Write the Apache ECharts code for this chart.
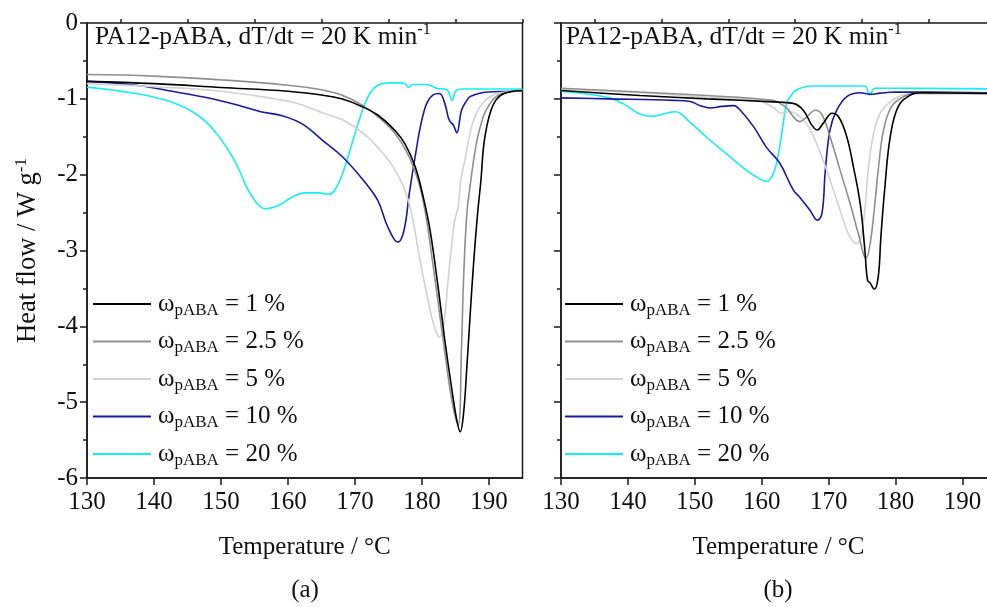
<!DOCTYPE html>
<html>
<head>
<meta charset="utf-8">
<script src="https://cdn.jsdelivr.net/npm/echarts@6/dist/echarts.min.js"></script>
<style>
  html, body { margin: 0; padding: 0; background: #fff; }
  #chart { width: 987px; height: 607px; }
</style>
</head>
<body>
<div id="chart"></div>
<script>
// DSC heating curves of PA12-pABA blends, two runs (a) and (b)
const shares = ['1 %', '2.5 %', '5 %', '10 %', '20 %'];
const colors = ['#000000', '#8f8f8f', '#d2d2d2', '#1a1aa0', '#18eeee'];

const xTicksMajor = [130, 140, 150, 160, 170, 180, 190];
const xTicksMinor = [135, 145, 155, 165, 175, 185, 195];

// ---- panel (a) ----
const tA1 = [130, 140, 150, 160, 165, 168, 171, 173.5, 176, 177.5, 179, 180.2, 181.2, 182.4, 183.4, 184.4, 185.2, 185.7, 186.2, 186.7, 187.2, 187.7, 188.3, 188.8, 189.2, 189.7, 190.3, 191.0, 192.0, 193.5, 195];
const hA1 = [-0.77, -0.80, -0.85, -0.90, -0.95, -1.00, -1.10, -1.22, -1.42, -1.60, -1.90, -2.30, -2.73, -3.48, -4.18, -4.80, -5.24, -5.39, -5.15, -4.53, -3.83, -3.17, -2.51, -2.07, -1.62, -1.35, -1.15, -1.02, -0.94, -0.90, -0.89];

const tA2 = [130, 140, 150, 160, 165, 168, 171, 173.5, 176, 178, 179.5, 180.5, 181.5, 182.5, 183.5, 184.5, 185.4, 185.9, 186.2, 186.7, 187.3, 187.7, 188.2, 188.7, 189.3, 189.9, 190.8, 192, 195];
const hA2 = [-0.68, -0.70, -0.75, -0.82, -0.88, -0.95, -1.08, -1.24, -1.46, -1.75, -2.10, -2.50, -3.10, -3.75, -4.40, -5.00, -5.30, -4.27, -3.39, -2.51, -2.07, -1.81, -1.55, -1.37, -1.20, -1.10, -0.99, -0.93, -0.89];

const tA3 = [130, 140, 150, 160, 163, 165, 168.2, 171.3, 173.4, 176, 178, 179.7, 180.7, 181.7, 182.6, 183.2, 183.9, 184.4, 184.9, 185.4, 185.8, 186.4, 187.4, 188.7, 190.6, 192.5, 195];
const hA3 = [-0.80, -0.84, -0.90, -1.03, -1.11, -1.18, -1.28, -1.46, -1.64, -1.94, -2.35, -3.13, -3.57, -3.96, -4.14, -4.00, -3.39, -2.95, -2.60, -2.42, -2.07, -1.81, -1.37, -1.10, -0.95, -0.91, -0.89];

const tA4 = [130, 137.3, 142, 147.6, 152.8, 155.9, 159, 162.1, 165.2, 168.2, 171.3, 173.4, 174.9, 176.4, 177.3, 178.1, 179, 179.8, 180.7, 181.6, 182.6, 183.4, 183.9, 184.2, 184.7, 185.2, 185.9, 186.7, 187.2, 189.7, 195];
const hA4 = [-0.77, -0.82, -0.89, -0.98, -1.09, -1.17, -1.22, -1.33, -1.55, -1.77, -2.08, -2.34, -2.69, -2.89, -2.74, -2.25, -1.75, -1.35, -1.06, -0.95, -0.93, -1.06, -1.24, -1.30, -1.35, -1.45, -1.15, -1.02, -0.97, -0.91, -0.90];

const tA5 = [130, 137.3, 142.5, 146.6, 149.7, 152.3, 153.8, 155.4, 156.6, 158.5, 160.5, 162.6, 164.6, 166.1, 167.5, 168.8, 170.3, 171.9, 173.4, 175.5, 176.7, 177.5, 178, 178.6, 180.6, 182.2, 183.7, 184.5, 185.0, 186, 195];
const hA5 = [-0.845, -0.93, -1.04, -1.22, -1.50, -1.86, -2.16, -2.38, -2.45, -2.41, -2.30, -2.24, -2.24, -2.26, -2.12, -1.81, -1.37, -0.98, -0.82, -0.79, -0.79, -0.80, -0.85, -0.81, -0.81, -0.86, -0.88, -1.02, -0.90, -0.87, -0.87];

// ---- panel (b) ----
const tB1 = [130, 141.8, 151.8, 161.7, 164.7, 166.2, 167.5, 168.3, 169.2, 170.5, 171.5, 172.7, 173.7, 174.7, 175.4, 175.8, 176.2, 176.8, 177.4, 177.8, 178.4, 179.2, 180.4, 182.2, 183.7, 195];
const hB1 = [-0.89, -0.956, -1.00, -1.04, -1.06, -1.15, -1.35, -1.41, -1.32, -1.19, -1.24, -1.50, -1.90, -2.38, -2.99, -3.39, -3.43, -3.51, -3.35, -2.82, -2.16, -1.50, -1.10, -0.95, -0.92, -0.93];

const tB2 = [130, 141.8, 151.8, 161.7, 162.7, 163.7, 165.7, 166.7, 168, 169, 170.2, 171.7, 173.2, 174.4, 175.6, 176.2, 176.9, 177.4, 178.2, 179.4, 181.2, 183, 195];
const hB2 = [-0.86, -0.91, -0.956, -1.02, -1.06, -1.12, -1.30, -1.24, -1.15, -1.21, -1.50, -1.94, -2.38, -2.77, -3.10, -2.91, -2.38, -1.94, -1.41, -1.10, -0.97, -0.93, -0.93];

const tB3 = [130, 141.8, 151.8, 159.3, 161.7, 162.9, 164.2, 165.2, 166.7, 168.2, 170.2, 171.7, 172.9, 174.1, 174.7, 175.4, 175.9, 176.7, 177.7, 179.2, 181, 183, 195];
const hB3 = [-0.87, -0.92, -0.98, -1.02, -1.11, -1.19, -1.17, -1.20, -1.33, -1.59, -2.07, -2.47, -2.77, -2.91, -2.87, -2.47, -1.94, -1.46, -1.19, -1.04, -0.95, -0.93, -0.93];

const tB4 = [130, 136.9, 146.8, 149.3, 150.8, 152.3, 154, 155.8, 156.8, 158.8, 160.7, 162.7, 164.7, 165.7, 167.2, 168.3, 169, 169.5, 170.2, 171.2, 172.7, 174.7, 176.2, 177.7, 180, 195];
const hB4 = [-0.987, -1.00, -1.02, -1.035, -1.09, -1.12, -1.10, -1.09, -1.15, -1.37, -1.64, -1.85, -2.20, -2.30, -2.47, -2.60, -2.51, -1.94, -1.41, -1.15, -0.97, -0.92, -0.94, -0.925, -0.91, -0.92];

const tB5 = [130, 136.9, 139.4, 141.8, 143.8, 145.3, 147.1, 149.3, 151.8, 154.8, 157.8, 159.8, 160.7, 161.7, 162.5, 163.2, 163.7, 164.2, 165.2, 167.7, 171.7, 175.4, 176.1, 176.9, 178, 195];
const hB5 = [-0.90, -0.98, -1.07, -1.20, -1.23, -1.20, -1.17, -1.31, -1.51, -1.73, -1.95, -2.06, -2.09, -1.99, -1.72, -1.33, -1.06, -0.98, -0.88, -0.83, -0.83, -0.83, -0.95, -0.86, -0.86, -0.87];

const panelA = [[tA1, hA1], [tA2, hA2], [tA3, hA3], [tA4, hA4], [tA5, hA5]];
const panelB = [[tB1, hB1], [tB2, hB2], [tB3, hB3], [tB4, hB4], [tB5, hB5]];

const FONT = 'Liberation Serif';
const INK = '#111111';
const AXIS = '#1a1a1a';

const zip = (t, h) => t.map((v, i) => [v, h[i]]);

function makeSeries(panel, idx) {
  return panel.map(([t, h], k) => ({
    name: shares[k],
    type: 'line',
    xAxisIndex: idx,
    yAxisIndex: idx,
    data: zip(t, h),
    showSymbol: false,
    smooth: 0.4,
    color: colors[k],
    lineStyle: { width: 1.6, color: colors[k] },
    emphasis: { disabled: true },
    z: 10 - k
  }));
}

const legendRich = {
  w: { fontFamily: FONT, fontSize: 25, color: INK, lineHeight: 30, verticalAlign: 'middle' },
  s: { fontFamily: FONT, fontSize: 17, color: INK, lineHeight: 17, verticalAlign: 'bottom' }
};

function makeLegend(left) {
  return {
    left: left,
    top: 291.5,
    padding: 0,
    orient: 'vertical',
    icon: 'rect',
    itemWidth: 58,
    itemHeight: 2,
    itemGap: 10,
    selectedMode: false,
    data: shares,
    formatter: name => `{w|ω}{s|pABA}{w| = ${name}}`,
    textStyle: { rich: legendRich, padding: [0, 0, 0, 2] }
  };
}

function makeXAxis(gi) {
  return {
    type: 'value',
    gridIndex: gi,
    min: 130,
    max: 195,
    interval: 5,
    name: 'Temperature / °C',
    nameLocation: 'middle',
    nameGap: 57,
    nameTextStyle: { fontFamily: FONT, fontSize: 25, color: INK },
    axisLine: { show: true, onZero: false, lineStyle: { color: AXIS, width: 1.5 } },
    axisTick: { show: true, inside: false, length: 7, customValues: xTicksMajor, lineStyle: { color: AXIS, width: 1.5 } },
    axisLabel: { show: true, margin: 12, customValues: xTicksMajor, fontFamily: FONT, fontSize: 25, color: INK },
    splitLine: { show: false }
  };
}

function makeMinorXAxis(gi) {
  return {
    type: 'value',
    gridIndex: gi,
    min: 130,
    max: 195,
    interval: 5,
    axisLine: { show: false },
    axisTick: { show: true, inside: false, length: 4, customValues: xTicksMinor, lineStyle: { color: AXIS, width: 1.5 } },
    axisLabel: { show: false },
    splitLine: { show: false }
  };
}

function makeYAxis(gi, labels) {
  return {
    type: 'value',
    gridIndex: gi,
    min: -6,
    max: 0,
    interval: 1,
    axisLine: { show: true, onZero: false, lineStyle: { color: AXIS, width: 1.5 } },
    axisTick: { show: true, inside: false, length: 7, lineStyle: { color: AXIS, width: 1.5 } },
    minorTick: { show: true, splitNumber: 2, length: 4, lineStyle: { color: AXIS, width: 1.5 } },
    axisLabel: { show: labels, margin: 9, fontFamily: FONT, fontSize: 25, color: INK },
    splitLine: { show: false },
    minorSplitLine: { show: false },
    name: labels ? '{m|Heat flow / W g}{u|-1}' : '',
    nameLocation: 'middle',
    nameRotate: 90,
    nameGap: 44,
    nameTextStyle: {
      rich: {
        m: { fontFamily: FONT, fontSize: 26.5, color: INK, lineHeight: 30, verticalAlign: 'middle' },
        u: { fontFamily: FONT, fontSize: 17, color: INK, lineHeight: 17, verticalAlign: 'top' }
      }
    }
  };
}

const titleRich = {
  m: { fontFamily: FONT, fontSize: 25.5, fill: INK, lineHeight: 30, verticalAlign: 'middle' },
  u: { fontFamily: FONT, fontSize: 16, fill: INK, lineHeight: 16, verticalAlign: 'top' }
};

function panelTitle(x) {
  return {
    type: 'text',
    x: x,
    y: 22,
    z: 20,
    style: {
      text: '{m|PA12-pABA, dT/dt = 20 K min}{u|-1}',
      rich: titleRich,
      fill: INK
    }
  };
}

function panelTag(x, label) {
  return {
    type: 'text',
    x: x,
    y: 590,
    style: {
      text: label,
      font: `25px "${FONT}"`,
      fill: INK,
      align: 'center',
      verticalAlign: 'middle'
    }
  };
}

const chart = echarts.init(document.getElementById('chart'), null, { renderer: 'canvas' });
chart.setOption({
  animation: false,
  backgroundColor: '#ffffff',
  grid: [
    { left: 87, top: 23, width: 435.5, height: 455, outerBoundsMode: 'none', show: true, borderColor: AXIS, borderWidth: 1.5, backgroundColor: 'transparent' },
    { left: 561, top: 23, width: 435, height: 455, outerBoundsMode: 'none', show: true, borderColor: AXIS, borderWidth: 1.5, backgroundColor: 'transparent' }
  ],
  xAxis: [makeXAxis(0), makeXAxis(1), makeMinorXAxis(0), makeMinorXAxis(1)],
  yAxis: [makeYAxis(0, true), makeYAxis(1, false)],
  legend: [makeLegend(93), makeLegend(565)],
  graphic: [panelTitle(95), panelTitle(566), panelTag(305, '(a)'), panelTag(778, '(b)')],
  series: [...makeSeries(panelA, 0), ...makeSeries(panelB, 1)]
});
</script>
</body>
</html>
